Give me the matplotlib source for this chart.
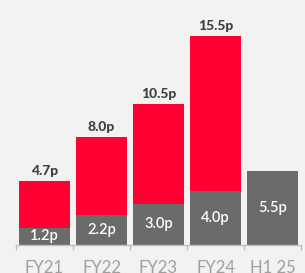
import numpy as np
import matplotlib.pyplot as plt

# dividend per share, pence
periods = ["FY21", "FY22", "FY23", "FY24", "H1 25"]
totals = [4.7, 8.0, 10.5, 15.5, None]
interims = [1.2, 2.2, 3.0, 4.0, 5.5]

red = "#ff0033"
grey = "#6b6b6b"
bg = "#f2f2f2"

fig = plt.figure(figsize=(3.05, 2.73), dpi=100, facecolor=bg)
ax = fig.add_axes([16/305, 28.5/273, 285/305, 244.5/273], facecolor=bg)

x = np.arange(len(periods))
w = 0.91
ax.bar(x, interims, width=w, color=grey, zorder=2)
for i in range(len(periods)):
    if totals[i] is not None:
        ax.bar(x[i], totals[i]-interims[i], bottom=interims[i], width=w, color=red, zorder=2)
        ax.text(x[i], totals[i]+0.3, "%.1fp" % totals[i], ha='center', va='bottom',
                fontsize=10, fontweight='black', family='Lato', color='#404040')
    ax.text(x[i], interims[i]/2, "%.1fp" % interims[i], ha='center', va='center',
            fontsize=10.5, fontweight='semibold', family='Lato', color='white')

ax.set_xlim(-0.5, 4.5)
ax.set_ylim(0, 244.5/13.42)
ax.set_yticks([])
ax.set_xticks(x)
ax.set_xticklabels(periods, family='Lato', fontsize=12, color='#a0a0a0')
ax.set_xticks(np.arange(-0.5, 5, 1), minor=True)
ax.tick_params(axis='x', which='major', length=0, pad=11.5)
ax.tick_params(axis='x', which='minor', length=3.5, width=1, color='#bfbfbf', direction='out')
for s in ['top', 'left', 'right']:
    ax.spines[s].set_visible(False)
ax.spines['bottom'].set_color('#bfbfbf')
ax.spines['bottom'].set_linewidth(1)

plt.savefig('out.png', dpi=100, facecolor=bg)
